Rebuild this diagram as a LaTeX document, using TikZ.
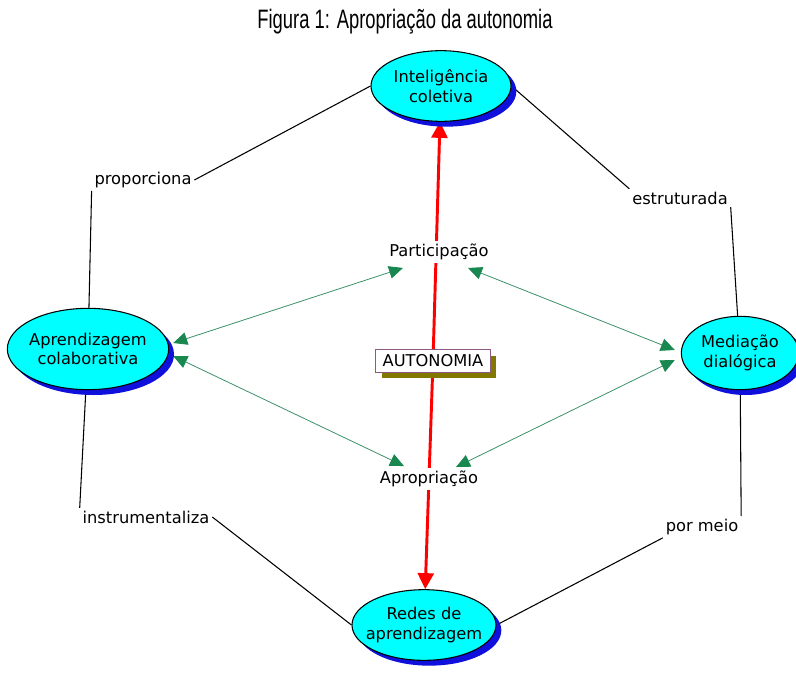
\documentclass[tikz,border=0pt]{standalone}
\usepackage{fontspec}
\setmainfont{DejaVu Sans}
\newfontfamily\titlefont{Liberation Sans}
\usetikzlibrary{arrows.meta,shapes.geometric,shadows,calc}
\definecolor{conceptcyan}{RGB}{0,255,255}
\definecolor{shadowblue}{RGB}{16,16,220}
\definecolor{autborder}{RGB}{140,90,130}
\definecolor{autshadow}{RGB}{128,120,0}
\definecolor{linkgreen}{RGB}{60,145,105}
\definecolor{tipgreen}{RGB}{25,135,80}
\pgfdeclarelayer{background}
\pgfsetlayers{background,main}

\begin{document}
\begin{tikzpicture}[x=0.75pt,y=-0.75pt,every node/.append style={align=center,font=\fontsize{12.2}{14.5}\selectfont},
  concept/.style={ellipse,draw=black,line width=0.8pt,fill=conceptcyan,inner xsep=-6pt,inner ysep=0pt,
    drop shadow={shadow xshift=4pt,shadow yshift=-4pt,fill=shadowblue,opacity=1}},
  linkname/.style={fill=white,inner sep=2pt},
  autbox/.style={rectangle,draw=autborder,line width=0.8pt,fill=white,minimum width=86pt,minimum height=17pt,inner sep=2pt,
    drop shadow={shadow xshift=4.5pt,shadow yshift=-4.5pt,fill=autshadow,opacity=1}},
  link/.style={draw=black,line width=0.8pt},
  twoway/.style={draw=linkgreen,line width=0.6pt,{Triangle[length=10.5pt,width=9.5pt,color=tipgreen]}-{Triangle[length=10.5pt,width=9.5pt,color=tipgreen]}},
  redarrow/.style={draw=red,line width=2.2pt,-{Triangle[length=12pt,width=12pt]}}]
    \useasboundingbox (0,0) rectangle (796,678);
    \node[font=\titlefont\fontsize{20}{22}\selectfont] (title) at (405,22) {\scalebox{0.69}[1]{Figura 1: Apropriação da autonomia}};
    % concepts
    \node[concept,minimum width=105pt,minimum height=53pt] (IC) at (441,86) {Inteligência\\coletiva};
    \node[concept,minimum width=121pt,minimum height=61pt] (AC) at (88,349) {Aprendizagem\\colaborativa};
    \node[concept,minimum width=88pt,minimum height=55pt] (MD) at (740,353) {Mediação\\dialógica};
    \node[concept,minimum width=108pt,minimum height=53pt] (RA) at (424,625) {Redes de\\aprendizagem};
    % linking phrases
    \node[linkname] (prop) at (143,180) {proporciona};
    \node[linkname] (estr) at (680,198) {estruturada};
    \node[linkname] (instr) at (146,517) {instrumentaliza};
    \node[linkname] (meio) at (702,527) {por meio};
    \node[linkname] (part) at (439,252) {Participação};
    \node[linkname] (aprop) at (429,479) {Apropriação};
    \node[autbox] (AUT) at (433,361) {AUTONOMIA};
    \begin{pgfonlayer}{background}
    \path[link] (prop.east) -- (IC.west);
    \path[link] (prop.south west) -- (AC);
    \path[link] (estr.north west) -- (IC.east);
    \path[link] (estr.south east) -- (MD);
    \path[link] (instr.north west) -- (AC);
    \path[link] (instr.east) -- (RA.west);
    \path[link] (meio.north east) -- (MD);
    \path[link] (meio.south west) -- (RA.east);
    \path[twoway] ($(part.south)+(-36,5)$) -- ($(AC.east)+(4,-6)$);
    \path[twoway] ($(part.south)+(29,5)$) -- ($(MD.west)+(-6,-3)$);
    \path[twoway] ($(aprop.north)+(-25,-2)$) -- ($(AC.east)+(4,7)$);
    \path[twoway] ($(aprop.north)+(27,-1)$) -- ($(MD.west)+(-6,7)$);
    \path[redarrow] (AUT) -- (IC);
    \path[redarrow] (AUT) -- (RA);
    \end{pgfonlayer}
\end{tikzpicture}
\end{document}
